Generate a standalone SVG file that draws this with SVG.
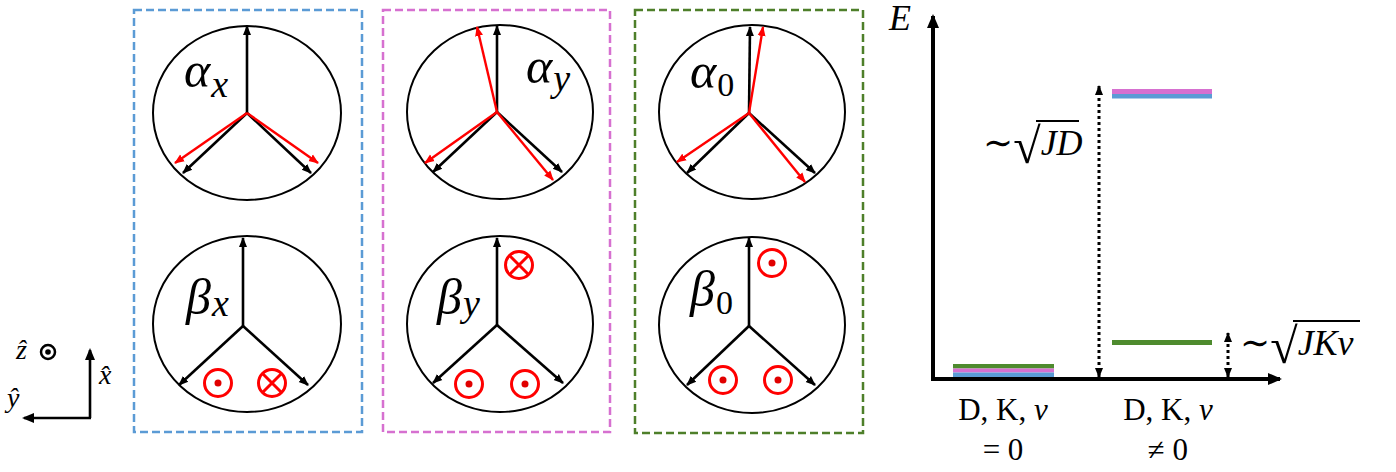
<svg xmlns="http://www.w3.org/2000/svg" width="1396" height="472" viewBox="0 0 1396 472">
<style>
.ring{fill:none;stroke:#000;stroke-width:2}
.ba{stroke:#000;stroke-width:2.6;fill:none;marker-end:url(#hb)}
.ra{stroke:#f00;stroke-width:2.4;fill:none;marker-end:url(#hr)}
.sym{fill:none;stroke:#f00;stroke-width:3}
.dot{fill:#e00000}
.gr{font-family:"Liberation Serif","DejaVu Serif",serif;font-style:italic;font-size:50px;fill:#000}
.sub{font-size:38px}
.num{font-style:normal;font-size:34px}
.lbl{font-family:"Liberation Serif","DejaVu Serif",serif;fill:#000}
.it{font-style:italic}
.s24{font-size:28px}
.s31{font-size:31px}
.s34{font-size:36px}
.s36{font-size:36px}
.s48{font-size:50px}
.box{fill:none;stroke-width:2.5;stroke-dasharray:8 4}
.dotted{stroke:#000;stroke-width:3;stroke-dasharray:3 3;fill:none;marker-end:url(#hs);marker-start:url(#hs)}
</style>
<defs>
<marker id="hb" viewBox="0 0 10 10" refX="9" refY="5" markerWidth="10" markerHeight="10" markerUnits="userSpaceOnUse" orient="auto"><path d="M0,1 L10,5 L0,9 z" fill="#000"/></marker>
<marker id="hr" viewBox="0 0 10 10" refX="9" refY="5" markerWidth="10" markerHeight="10" markerUnits="userSpaceOnUse" orient="auto"><path d="M0,1 L10,5 L0,9 z" fill="#f00"/></marker>
<marker id="hs" viewBox="0 0 10 10" refX="9" refY="5" markerWidth="10" markerHeight="10" markerUnits="userSpaceOnUse" orient="auto-start-reverse"><path d="M0,1 L10,5 L0,9 z" fill="#000"/></marker>
<marker id="hl" viewBox="0 0 14 14" refX="12" refY="7" markerWidth="14" markerHeight="14" markerUnits="userSpaceOnUse" orient="auto"><path d="M0,1 L14,7 L0,13 z" fill="#000"/></marker>
<marker id="hm" viewBox="0 0 12 12" refX="10" refY="6" markerWidth="12" markerHeight="12" markerUnits="userSpaceOnUse" orient="auto"><path d="M0,1 L12,6 L0,11 z" fill="#000"/></marker>
<g id="dotsym"><circle r="13.5" class="sym"/><circle r="3.5" class="dot"/></g>
<g id="crosssym"><circle r="13.5" class="sym"/><path d="M-9.5,-9.5 L9.5,9.5 M9.5,-9.5 L-9.5,9.5" class="sym"/></g>
</defs>

<g id="box-x">
<rect class="box" x="134" y="10" width="228" height="422" stroke="#5B9BD5"/>
</g>
<g id="box-y">
<rect class="box" x="383" y="10" width="227" height="422" stroke="#D670D0"/>
</g>
<g id="box-0">
<rect class="box" x="635" y="10" width="228" height="423" stroke="#4E7F2A"/>
</g>

<g id="alpha-x">
<ellipse class="ring" cx="247" cy="113" rx="94" ry="87"/>
<path class="ba" d="M247,113 L247,26"/>
<path class="ba" d="M247,113 L183,173"/>
<path class="ba" d="M247,113 L311,173"/>
<path class="ra" d="M247,113 L175,163"/>
<path class="ra" d="M247,113 L318,163"/>
<text class="gr" x="184" y="87">α<tspan class="sub" dx="1" dy="10">x</tspan></text>
</g>
<g id="beta-x">
<ellipse class="ring" cx="247" cy="324" rx="94" ry="88"/>
<path class="ba" d="M243,326 L243,238"/>
<path class="ba" d="M243,326 L179,385"/>
<path class="ba" d="M243,326 L308,385"/>
<use href="#dotsym" x="218" y="383"/>
<use href="#crosssym" x="272" y="383"/>
<text class="gr" x="186" y="314">β<tspan class="sub" dx="1" dy="2">x</tspan></text>
</g>

<g id="alpha-y">
<ellipse class="ring" cx="500" cy="112" rx="93" ry="87"/>
<path class="ba" d="M497,112 L497,26"/>
<path class="ba" d="M497,112 L433,172"/>
<path class="ba" d="M497,112 L562,172"/>
<path class="ra" d="M497,112 L477,27"/>
<path class="ra" d="M497,112 L425,163"/>
<path class="ra" d="M497,112 L553,180"/>
<text class="gr" x="526" y="83">α<tspan class="sub" dx="1" dy="8">y</tspan></text>
</g>
<g id="beta-y">
<ellipse class="ring" cx="500" cy="324" rx="93" ry="88"/>
<path class="ba" d="M497,325 L497,238"/>
<path class="ba" d="M497,325 L433,383"/>
<path class="ba" d="M497,325 L563,383"/>
<use href="#crosssym" x="519" y="265"/>
<use href="#dotsym" x="469" y="384"/>
<use href="#dotsym" x="525" y="384"/>
<text class="gr" x="437" y="314">β<tspan class="sub" dx="1" dy="2">y</tspan></text>
</g>

<g id="alpha-0">
<ellipse class="ring" cx="752" cy="112" rx="93" ry="87"/>
<path class="ba" d="M749,113 L750,27"/>
<path class="ba" d="M749,113 L687,173"/>
<path class="ba" d="M749,113 L815,173"/>
<path class="ra" d="M749,113 L763,27"/>
<path class="ra" d="M749,113 L677,162"/>
<path class="ra" d="M749,113 L805,182"/>
<text class="gr" x="690" y="88">α<tspan class="num" dx="1" dy="8">0</tspan></text>
</g>
<g id="beta-0">
<ellipse class="ring" cx="752" cy="325" rx="93" ry="88"/>
<path class="ba" d="M749,326 L749,238"/>
<path class="ba" d="M749,326 L687,385"/>
<path class="ba" d="M749,326 L815,385"/>
<use href="#dotsym" x="772" y="263"/>
<use href="#dotsym" x="723" y="380"/>
<use href="#dotsym" x="778" y="380"/>
<text class="gr" x="690" y="306">β<tspan class="num" dx="1" dy="8">0</tspan></text>
</g>

<g id="axes">
<path d="M90,418 L90,350" stroke="#000" stroke-width="2.6" fill="none" marker-end="url(#hm)"/>
<path d="M91,418 L24,418" stroke="#000" stroke-width="2.6" fill="none" marker-end="url(#hm)"/>
<circle cx="48" cy="352" r="7" fill="none" stroke="#000" stroke-width="2.5"/>
<circle cx="48" cy="352" r="2.8" fill="#000"/>
<text class="lbl it s24" x="16" y="359">ẑ</text>
<text class="lbl it s24" x="99" y="384">x̂</text>
<text class="lbl it s24" x="7" y="407">ŷ</text>
</g>

<g id="energy">
<path d="M933,381 L933,16" stroke="#000" stroke-width="4" fill="none" marker-end="url(#hl)"/>
<path d="M931,379 L1280,379" stroke="#000" stroke-width="4" fill="none" marker-end="url(#hl)"/>
<text class="lbl it s36" x="889" y="30">E</text>
<rect x="953" y="364" width="101" height="4.5" fill="#4E8B2E"/>
<rect x="953" y="368.5" width="101" height="4" fill="#D670D0"/>
<rect x="953" y="372.5" width="101" height="4.5" fill="#5B9BD5"/>
<rect x="1112" y="89" width="100" height="5" fill="#D670D0"/>
<rect x="1112" y="94" width="100" height="4.5" fill="#5B9BD5"/>
<rect x="1112" y="340" width="100" height="5" fill="#4E8B2E"/>
<path class="dotted" d="M1099,377 L1099,86"/>
<path class="dotted" d="M1228,377 L1228,333"/>
<text class="lbl s36" x="983" y="155">∼<tspan class="s48" dy="8">√</tspan><tspan class="it s34" dy="-8">JD</tspan></text>
<path d="M1036,121 L1079,121" stroke="#000" stroke-width="2"/>
<text class="lbl s36" x="1240" y="355">∼<tspan class="s48" dy="8">√</tspan><tspan class="it s34" dy="-8">JKν</tspan></text>
<path d="M1293,321 L1360,321" stroke="#000" stroke-width="2"/>
<text class="lbl s31" x="1003" y="420" text-anchor="middle">D, K, <tspan class="it">ν</tspan></text>
<text class="lbl s31" x="1003" y="460" text-anchor="middle">= 0</text>
<text class="lbl s31" x="1168" y="420" text-anchor="middle">D, K, <tspan class="it">ν</tspan></text>
<text class="lbl s31" x="1168" y="460" text-anchor="middle">≠ 0</text>
</g>
</svg>
